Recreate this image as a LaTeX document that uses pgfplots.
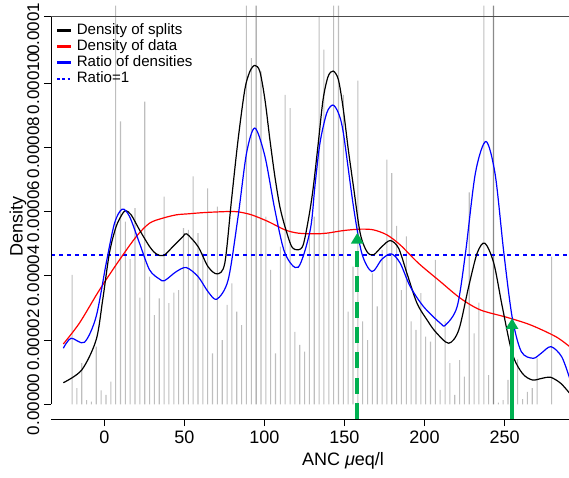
\documentclass[border=0pt]{standalone}
\usepackage{fontspec}
\setmainfont{Liberation Sans}
\usepackage{pgfplots}
\pgfplotsset{compat=1.18}
\usetikzlibrary{arrows.meta}
\definecolor{barlight}{HTML}{BEBEBE}
\definecolor{bardark}{HTML}{8A8A8A}
\definecolor{arrowgreen}{HTML}{00B050}
\definecolor{pureblue}{RGB}{0,0,255}
\newcommand{\lf}{\fontsize{11.3}{12}\selectfont}
\begin{document}
\begin{tikzpicture}
\begin{axis}[
  name=ax,
  scale only axis,
  width=388.5pt, height=301.5pt,
  xmin=-33.4, xmax=290.3,
  ymin=-0.458, ymax=12.065,
  clip=false,
  axis line style={draw=none},
  tick align=outside,
  major tick length=5.25pt,
  xtick pos=left, ytick pos=left,
  tick style={black, line width=0.75pt},
  xtick={0,50,100,150,200,250},
  ytick={0,2,4,6,8,10},
  yticklabels={0.00000,0.00002,0.00004,0.00006,0.00008,0.00010},
  extra y ticks={12.065},
  extra y tick labels={0.0001},
  extra y tick style={yticklabel style={xshift=-9pt}},
  /pgf/number format/assume math mode=true,
  xticklabel style={font=\fontsize{13.5}{16}\selectfont},
  yticklabel style={rotate=90, anchor=south, font=\fontsize{12.75}{15}\selectfont},
  xlabel={ANC {\itshape μ}eq/l},
  ylabel={Density},
  label style={font=\fontsize{13.5}{16}\selectfont},
  xlabel style={at={(rel axis cs:0.5637,0)}, anchor=center, yshift=-31.5pt},
  ylabel style={at={(rel axis cs:0,0.479)}, anchor=center, yshift=24.75pt},
  legend style={at={(rel axis cs:0,1)}, anchor=north west, xshift=3.5pt, yshift=-4.25pt,
    draw=none, fill=none, inner xsep=0pt, inner ysep=0pt, row sep=0pt,
    column sep=2.5pt,
    font=\lf,
    nodes={inner sep=0.5pt, text height=8.4pt, text depth=2.6pt, font=\lf}},
  legend cell align=left,
  legend image code/.code={\draw[#1] (0pt,0pt) -- (10.5pt,0pt);},
]
% legend entries
\addlegendimage{black, line width=2.2pt}
\addlegendentry{Density of splits}
\addlegendimage{red, line width=2.2pt}
\addlegendentry{Density of data}
\addlegendimage{pureblue, line width=2.2pt}
\addlegendentry{Ratio of densities}
\addlegendimage{pureblue, line width=1.8pt, dotted}
\addlegendentry{Ratio=1}

% gray bars
\addplot[ybar, bar width=0.8pt, bar shift=0pt, fill=barlight, draw=none, forget plot] coordinates {
(-20.24,4.03) (-17.21,0.50) (-14.19,1.28) (-11.16,0.13) (-8.13,0.08) (-5.11,1.80) (-2.08,0.43) (0.95,0.29) (3.98,0.71) (7.00,12.42)
(10.03,8.81) (13.06,5.69) (16.08,4.52) (19.11,6.11) (22.14,3.32) (25.17,9.43) (28.19,3.98) (31.22,2.78) (34.25,3.30) (37.27,6.47)
(40.30,3.15) (43.33,3.48) (46.35,3.56) (49.38,5.49) (52.41,5.43) (55.44,7.10) (58.46,5.33) (61.49,4.71) (64.52,6.73) (67.54,1.59)
(70.57,6.16) (73.60,2.00) (76.62,3.10) (79.65,3.77) (82.68,2.89) (85.71,2.47) (88.73,12.42) (91.76,10.78) (97.81,10.37)
(100.84,5.85) (103.87,4.19) (106.89,1.59) (109.92,4.91) (112.95,9.64) (115.98,9.23) (119.00,2.26) (122.03,1.85) (125.06,1.64) (128.08,5.33)
(131.11,5.85) (134.14,12.08) (137.16,11.05) (140.19,5.33) (143.22,12.42) (146.25,12.42) (149.27,9.64) (152.30,2.89) (155.33,4.29) (158.35,10.08)
(161.38,2.58) (164.41,2.00) (167.43,4.08) (170.46,3.05) (173.49,4.81) (176.52,7.62) (179.54,7.20) (182.57,5.56) (185.60,3.56) (188.62,5.23)
(191.65,2.58) (194.68,2.32) (197.70,3.46) (200.73,2.11) (203.76,1.95) (206.79,4.50) (209.81,0.45) (212.84,2.58) (215.87,1.28) (218.89,0.29)
(221.92,1.38) (224.95,0.86) (227.97,6.60) (231.00,2.21) (234.03,3.17) (237.06,12.42) (240.08,0.91) (246.14,0.05) (249.16,0.13)
(252.19,0.76) (255.22,1.17) (258.24,1.40) (261.27,0.16) (264.30,0.39) (267.33,0.50) (270.35,1.43) (279.43,4.60)
};
\addplot[ybar, bar width=0.9pt, bar shift=0pt, fill=bardark, draw=none, forget plot] coordinates {
(94.79,12.42) (243.11,12.42)
};

% ratio = 1 line
\addplot[pureblue, line width=1.1pt, dashed, forget plot] coordinates {(-33.4,4.645) (290.3,4.645)};

% density of data (red)
\addplot[red, line width=0.9pt, smooth, forget plot] coordinates {
(-25.7,1.88) (-15.7,2.525) (-3.1,3.564) (9.4,4.499) (19.9,5.225) (28.2,5.643) (36.5,5.799) (44.9,5.902) (52.2,5.933) (62.7,5.974)
(77.3,6.005) (83.5,5.995) (91.9,5.902) (102.3,5.693) (112.8,5.434) (121.1,5.331) (131.6,5.31) (138.9,5.331) (149.3,5.412) (159.8,5.456)
(168.1,5.434) (176.5,5.278) (184.8,4.966) (196.2,4.396) (209.9,3.822) (222.4,3.305) (234.9,2.94) (251.7,2.706) (266.3,2.472) (282.0,2.108) (290.7,1.796)
};

% density of splits (black)
\addplot[black, line width=0.9pt, smooth, forget plot] coordinates {
(-25.7,0.673) (-14.2,1.069) (-5.2,2.005) (-1.1,3.252) (3.1,4.708) (7.3,5.537) (11.5,5.955) (13.5,6.027) (16.7,5.902) (21.9,5.434)
(28.2,4.914) (32.4,4.686) (37.0,4.633) (42.8,4.914) (49.1,5.225) (51.4,5.31) (58.5,4.914) (64.7,4.29) (70.4,4.062) (75.2,4.396)
(79.4,6.369) (83.5,8.24) (87.7,9.799) (90.9,10.37) (94.0,10.557) (97.1,10.37) (100.3,9.487) (103.4,8.24) (106.5,7.096) (109.6,6.16)
(112.8,5.537) (117.0,4.914) (121.1,4.811) (124.2,4.966) (127.4,5.746) (130.3,6.681) (133.5,8.084) (136.6,9.487) (139.7,10.204) (142.9,10.381)
(146.2,10.11) (149.3,9.175) (152.4,7.928) (155.6,6.784) (159.8,5.331) (164.0,4.758) (168.1,4.655) (173.4,4.914) (178.6,5.101) (183.8,4.864)
(189.0,4.084) (195.3,3.149) (201.6,2.628) (206.8,2.263) (215.1,1.902) (221.4,2.316) (227.6,3.666) (232.9,4.708) (237.7,5.02) (243.3,4.396)
(248.6,3.043) (254.8,1.59) (261.1,0.966) (267.4,0.758) (273.6,0.811) (278.8,0.842) (285.1,0.655) (290.7,0.343)
};

% ratio of densities (blue)
\addplot[pureblue, line width=0.9pt, smooth, forget plot] coordinates {
(-25.7,1.746) (-20.9,2.058) (-12.5,1.933) (-5.2,2.731) (1.1,4.396) (6.3,5.643) (11.1,6.08) (15.7,5.849) (21.9,5.02) (28.2,4.187)
(34.5,3.897) (37.6,3.853) (44.9,4.134) (51.2,4.259) (58.5,3.978) (64.7,3.511) (70.2,3.274) (77.3,3.875) (83.5,5.849) (88.8,7.825)
(94.0,8.605) (100.3,7.719) (106.5,6.058) (112.8,4.708) (121.1,4.271) (128.6,5.434) (131.6,6.837) (134.7,8.147) (138.9,9.073) (142.7,9.322)
(146.2,9.073) (149.3,8.449) (155.6,6.161) (160.8,4.708) (167.1,4.134) (173.4,4.521) (179.3,4.686) (184.8,4.396) (191.1,3.666) (199.4,3.043)
(209.9,2.525) (213.2,2.472) (220.4,3.043) (225.6,4.708) (231.8,7.202) (238.4,8.187) (244.2,7.149) (249.6,4.708) (254.8,2.706) (260.5,1.64)
(267.9,1.434) (272.9,1.59) (279.0,1.796) (285.7,1.484) (290.7,0.811)
};

% green arrows
\addplot[arrowgreen, line width=2.8pt, dash pattern=on 12pt off 7pt, -{Triangle[width=9pt,length=8pt]}, forget plot] coordinates {(158,-0.458) (158,5.34)};
\addplot[arrowgreen, line width=3pt, -{Triangle[width=9pt,length=8pt]}, forget plot] coordinates {(254.7,-0.458) (254.7,2.68)};

% frame lines
\draw[black, line width=0.75pt] (axis cs:-33.4,0) -- (axis cs:-33.4,12.065);
\draw[black!70, line width=0.75pt] (axis cs:-33.4,12.065) -- (axis cs:290.3,12.065);
\draw[black, line width=0.75pt] (axis cs:-33.4,-0.458) -- (axis cs:290.3,-0.458);
\end{axis}
\pgfresetboundingbox
\path ([xshift=-38.25pt,yshift=-43.5pt]ax.south west) rectangle ([yshift=12.75pt]ax.north east);
\end{tikzpicture}
\end{document}
